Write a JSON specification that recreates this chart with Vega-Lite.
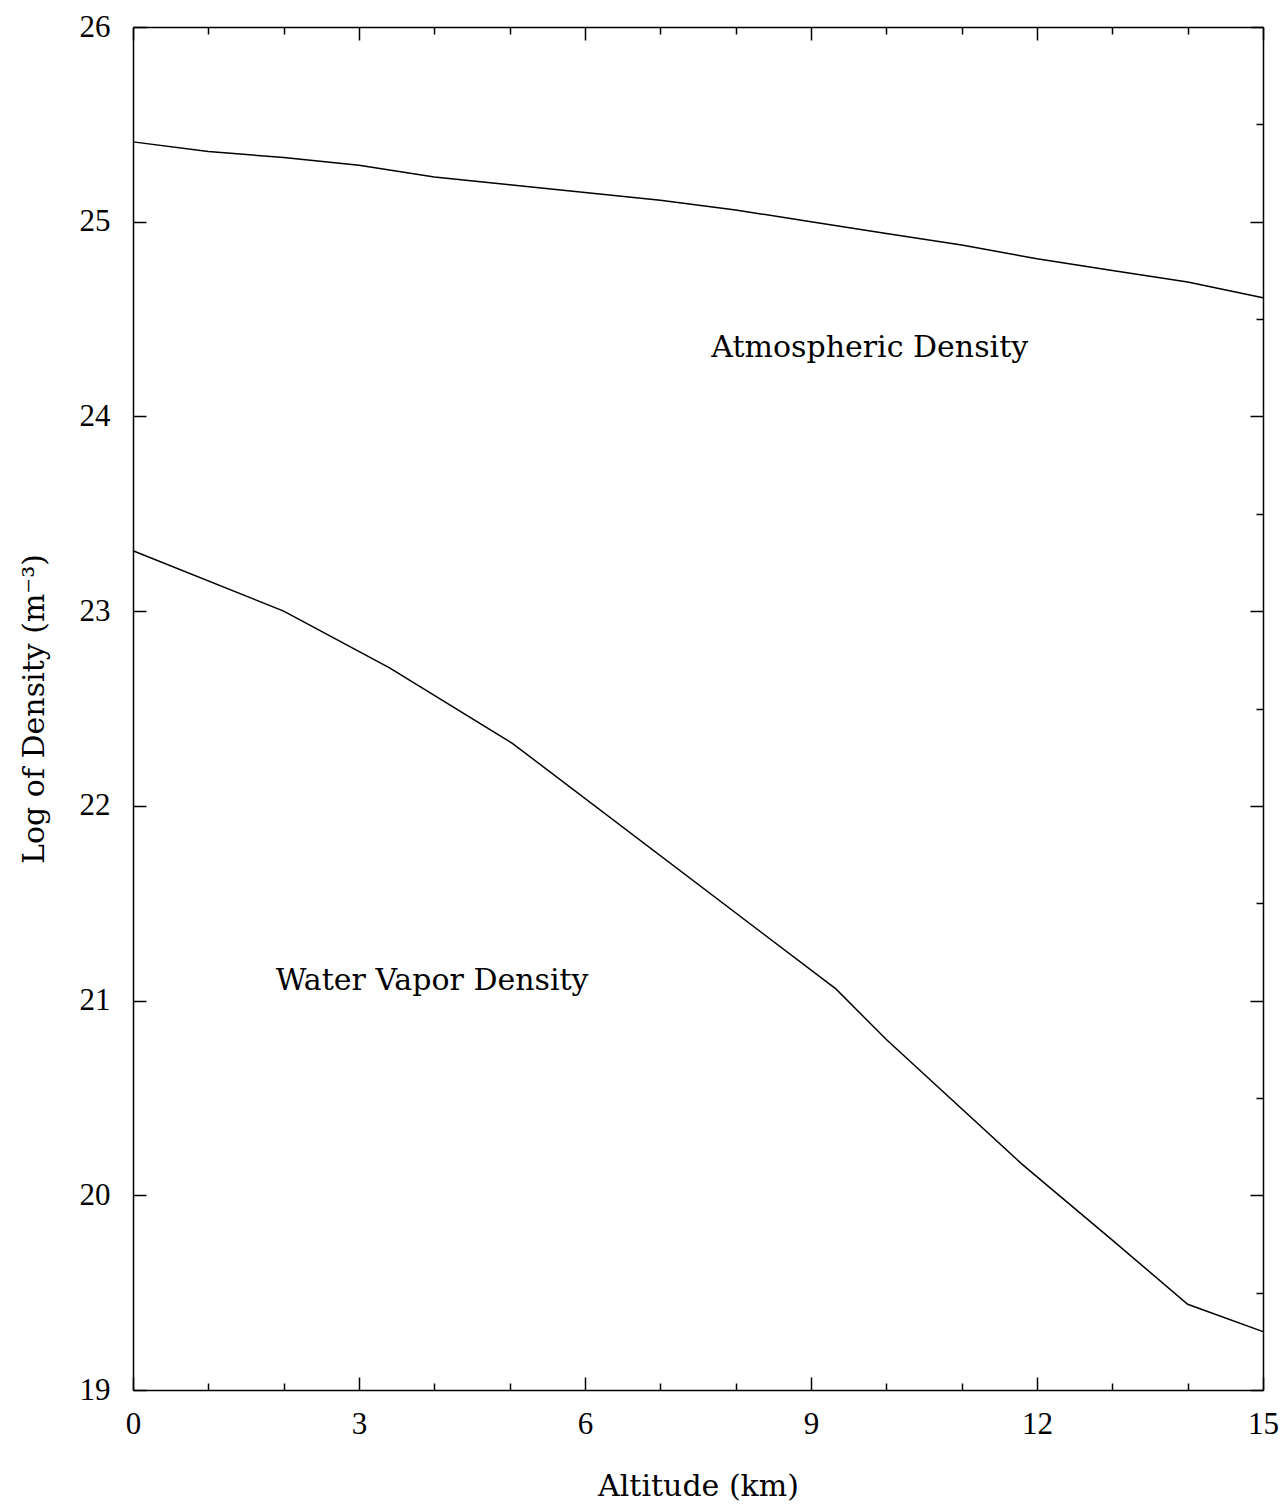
{
  "$schema": "https://vega.github.io/schema/vega-lite/v6.json",
  "width": 1130,
  "height": 1363,
  "autosize": {"type": "none"},
  "padding": {"left": 133, "top": 27, "right": 24, "bottom": 116},
  "background": "white",
  "config": {
    "view": {"stroke": null},
    "axis": {"grid": false, "domainColor": "black", "domainWidth": 1.5, "tickColor": "black", "tickWidth": 1.5, "labelFont": "Liberation Serif", "labelFontSize": 31, "labelColor": "black", "titleFont": "DejaVu Serif", "titleFontSize": 30, "titleFontWeight": "normal", "titleColor": "black"}
  },
  "datasets": {
    "atmos": [
      {"alt": 0, "logd": 25.41}, {"alt": 1, "logd": 25.36}, {"alt": 2, "logd": 25.33}, {"alt": 3, "logd": 25.29},
      {"alt": 4, "logd": 25.23}, {"alt": 5, "logd": 25.19}, {"alt": 6, "logd": 25.15}, {"alt": 7, "logd": 25.11},
      {"alt": 8, "logd": 25.06}, {"alt": 9, "logd": 25.0}, {"alt": 10, "logd": 24.94}, {"alt": 11, "logd": 24.88},
      {"alt": 12, "logd": 24.81}, {"alt": 13, "logd": 24.75}, {"alt": 14, "logd": 24.69}, {"alt": 15, "logd": 24.61}
    ],
    "water": [
      {"alt": 0, "logd": 23.31}, {"alt": 2, "logd": 23.0}, {"alt": 3.4, "logd": 22.71}, {"alt": 5.04, "logd": 22.32},
      {"alt": 9.33, "logd": 21.06}, {"alt": 10, "logd": 20.8}, {"alt": 11.8, "logd": 20.16}, {"alt": 13, "logd": 19.77},
      {"alt": 14, "logd": 19.44}, {"alt": 15, "logd": 19.3}
    ],
    "labels": [
      {"alt": 9.78, "logd": 24.35, "text": "Atmospheric Density"},
      {"alt": 3.97, "logd": 21.1, "text": "Water Vapor Density"}
    ]
  },
  "layer": [
    {
      "data": {"name": "atmos"},
      "mark": {"type": "line", "color": "black", "strokeWidth": 1.5},
      "encoding": {
        "x": {"field": "alt", "type": "quantitative", "scale": {"domain": [0, 15], "nice": false, "zero": false},
          "axis": {"orient": "bottom", "title": "Altitude (km)", "titlePadding": 32,
            "values": [0,1,2,3,4,5,6,7,8,9,10,11,12,13,14,15],
            "format": "d",
            "labelExpr": "datum.value % 3 === 0 ? datum.label : ''",
            "tickSize": {"condition": {"test": "datum.value % 3 === 0", "value": -13}, "value": -7},
            "labelPadding": 32, "labelFlush": false}},
        "y": {"field": "logd", "type": "quantitative", "scale": {"domain": [19, 26], "nice": false, "zero": false},
          "axis": {"orient": "left", "title": "Log of Density  (m⁻³)", "titlePadding": 30,
            "values": [19,19.5,20,20.5,21,21.5,22,22.5,23,23.5,24,24.5,25,25.5,26],
            "format": "d",
            "labelExpr": "datum.value % 1 === 0 ? datum.label : ''",
            "tickSize": {"condition": {"test": "datum.value % 1 === 0", "value": -13}, "value": -7},
            "labelPadding": 36}}
      }
    },
    {
      "data": {"name": "water"},
      "mark": {"type": "line", "color": "black", "strokeWidth": 1.5},
      "encoding": {
        "x": {"field": "alt", "type": "quantitative",
          "axis": {"orient": "top", "title": null, "labels": false,
            "values": [0,1,2,3,4,5,6,7,8,9,10,11,12,13,14,15],
            "tickSize": {"condition": {"test": "datum.value % 3 === 0", "value": -13}, "value": -7}}},
        "y": {"field": "logd", "type": "quantitative",
          "axis": {"orient": "right", "title": null, "labels": false,
            "values": [19,19.5,20,20.5,21,21.5,22,22.5,23,23.5,24,24.5,25,25.5,26],
            "tickSize": {"condition": {"test": "datum.value % 1 === 0", "value": -13}, "value": -7}}}
      }
    },
    {
      "data": {"name": "labels"},
      "mark": {"type": "text", "font": "DejaVu Serif", "fontSize": 30, "color": "black", "align": "center", "baseline": "middle"},
      "encoding": {
        "x": {"field": "alt", "type": "quantitative", "axis": null},
        "y": {"field": "logd", "type": "quantitative", "axis": null},
        "text": {"field": "text"}
      }
    }
  ],
  "resolve": {"axis": {"x": "independent", "y": "independent"}}
}
